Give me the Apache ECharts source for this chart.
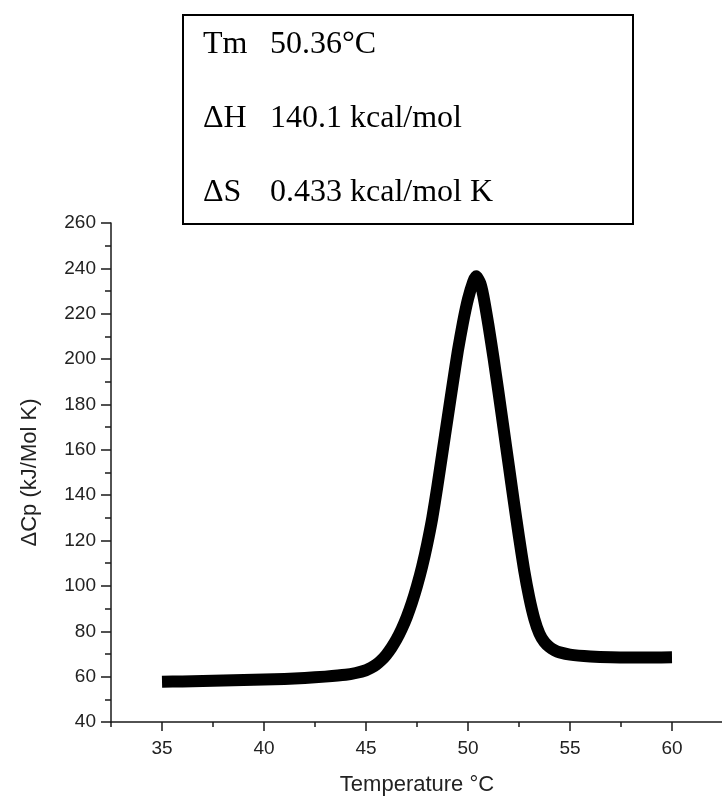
<!DOCTYPE html>
<html>
<head>
<meta charset="utf-8">
<script src="https://cdn.jsdelivr.net/npm/echarts@6/dist/echarts.min.js"></script>
<style>
	html, body { margin: 0; padding: 0; background: #fff; }
	#chartDsc { width: 722px; height: 802px; }
</style>
</head>
<body>
<div id="chartDsc"></div>
<script>
const SANS = '"Liberation Sans", Arial, sans-serif';
const SERIF = '"Liberation Serif", "Times New Roman", serif';

// temperature (°C) and ΔCp (kJ/Mol K)
const temps = [35, 36, 37, 38, 39, 40, 41, 42, 43, 44, 44.5,
	45, 45.25, 45.5, 45.75, 46, 46.25, 46.5, 46.75, 47, 47.25, 47.5, 47.75,
	48, 48.25, 48.5, 48.75, 49, 49.25, 49.5, 49.75, 50, 50.25, 50.4, 50.6, 50.75,
	51, 51.25, 51.5, 51.75, 52, 52.25, 52.5, 52.75, 53, 53.25, 53.5, 53.75,
	54, 54.25, 54.5, 55, 56, 57, 58, 59, 60];
const cp = [57.7, 57.9, 58.1, 58.3, 58.5, 58.7, 59.0, 59.4, 60.0, 60.8, 61.6,
	62.8, 63.9, 65.3, 67.2, 69.7, 72.8, 76.5, 81, 86.3, 92.6, 100, 108.5,
	118.5, 130, 144, 159, 174, 189, 203.5, 216, 226.5, 234, 236.5, 233.5, 228,
	215, 200.5, 185, 169, 153, 137, 121.5, 107, 95, 85.5, 79, 75.2,
	73, 71.6, 70.7, 69.7, 68.9, 68.5, 68.4, 68.4, 68.5];

const xMajorTicks = [35, 40, 45, 50, 55, 60];
const xMinorTicks = [32.5, 37.5, 42.5, 47.5, 52.5, 57.5, 62.5];

const statNames = ['Tm', 'ΔH', 'ΔS'];
const statValues = ['50.36°C', '140.1 kcal/mol', '0.433 kcal/mol K'];

let charts = echarts.init(document.getElementById('chartDsc'));

let boxTexts = [];
statNames.forEach((name, i) => {
	let top = 29 + i * 73.7;
	boxTexts.push({ type: 'text', left: 203, top: top,
		style: { text: name, font: '32px ' + SERIF, fill: '#000' } });
	boxTexts.push({ type: 'text', left: 270, top: top,
		style: { text: statValues[i], font: '32px ' + SERIF, fill: '#000' } });
});

const axisLine = { show: true, lineStyle: { color: '#1a1a1a', width: 1.5 } };
const tickLine = { color: '#1a1a1a', width: 1.5 };

charts.setOption({
	animation: false,
	grid: { left: 111, top: 223, width: 612, height: 499, outerBoundsMode: 'none' },
	xAxis: [{
		type: 'value', min: 32.5, max: 62.5,
		name: 'Temperature °C', nameLocation: 'middle', nameGap: 52,
		nameTextStyle: { fontFamily: SANS, fontSize: 22, color: '#222' },
		axisLine: axisLine,
		axisTick: { show: true, customValues: xMajorTicks, length: 9, lineStyle: tickLine },
		axisLabel: { customValues: xMajorTicks, margin: 17, fontFamily: SANS, fontSize: 19, color: '#222' },
		splitLine: { show: false }
	}, {
		type: 'value', min: 32.5, max: 62.5, position: 'bottom',
		axisLine: { show: false },
		axisTick: { show: true, customValues: xMinorTicks, length: 5, lineStyle: tickLine },
		axisLabel: { show: false },
		splitLine: { show: false }
	}],
	yAxis: {
		type: 'value', min: 40, max: 260, interval: 20,
		name: 'ΔCp (kJ/Mol K)', nameLocation: 'middle', nameGap: 70, nameRotate: 90,
		nameTextStyle: { fontFamily: SANS, fontSize: 22, color: '#222' },
		axisLine: axisLine,
		axisTick: { show: true, length: 10, lineStyle: tickLine },
		minorTick: { show: true, splitNumber: 2, length: 6, lineStyle: tickLine },
		axisLabel: { margin: 15, fontFamily: SANS, fontSize: 19, color: '#222' },
		splitLine: { show: false }
	},
	series: [{
		type: 'line',
		data: temps.map((t, i) => [t, cp[i]]),
		showSymbol: false,
		smooth: 0.2,
		lineStyle: { color: '#000', width: 12, cap: 'butt', join: 'round' }
	}],
	graphic: [{
		type: 'rect', left: 182, top: 14, z: 100,
		shape: { width: 450, height: 209 },
		style: { fill: '#fff', stroke: '#000', lineWidth: 2 }
	}].concat(boxTexts.map(t => Object.assign(t, { z: 101 })))
});
</script>
</body>
</html>
